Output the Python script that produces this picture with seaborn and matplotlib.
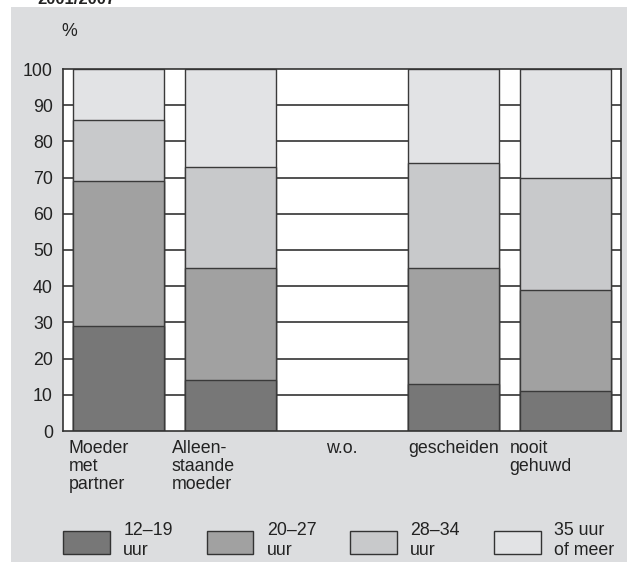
import matplotlib
matplotlib.use("Agg")
import matplotlib.pyplot as plt
import seaborn as sns
import numpy as np
import pandas as pd
from matplotlib.patches import Rectangle

# ---- data ----
categories = ["Moeder\nmet\npartner", "Alleen-\nstaande\nmoeder", "w.o.", "gescheiden", "nooit\ngehuwd"]
uur_12_19 = [29, 14, np.nan, 13, 11]
uur_20_27 = [40, 31, np.nan, 32, 28]
uur_28_34 = [17, 28, np.nan, 29, 31]
uur_35_plus = [14, 27, np.nan, 26, 30]
series_labels = ["12\u201319\nuur", "20\u201327\nuur", "28\u201334\nuur", "35 uur\nof meer"]
y_ticks = [0, 10, 20, 30, 40, 50, 60, 70, 80, 90, 100]
title_text = "2001/2007"

colors = ["#777777", "#a1a1a1", "#c8c9cb", "#e2e3e5"]
bg = "#dcdddf"
FS = 12.8

sns.set_theme(style="white")
plt.rcParams["font.family"] = ["Liberation Sans", "DejaVu Sans"]

W, H = 627, 562
fig = plt.figure(figsize=(W / 100, H / 100), dpi=100)
fig.patch.set_facecolor("white")
fig.patches.append(Rectangle((11 / W, 0), 1 - 11 / W, (H - 7) / H, transform=fig.transFigure,
                             facecolor=bg, edgecolor="none", zorder=-10))
fig.text(37 / W, (H - 4) / H, title_text, fontsize=12, fontweight="bold", color="#222222",
         ha="left", va="baseline")

ax = fig.add_axes([62.7 / W, (H - 431) / H, (621 - 62.7) / W, (431 - 69) / H])
ax.set_facecolor("white")

series = [uur_12_19, uur_20_27, uur_28_34, uur_35_plus]
cum = np.nancumsum(np.array(series, dtype=float), axis=0)
cum[:, np.isnan(np.array(series[0], dtype=float))] = np.nan

for k in range(len(series) - 1, -1, -1):
    df = pd.DataFrame({"cat": categories, "val": cum[k]})
    sns.barplot(data=df, x="cat", y="val", order=categories, color=colors[k], saturation=1,
                width=0.815, edgecolor="#3a3a3a", linewidth=1.0, ax=ax, zorder=3, errorbar=None)

for y in y_ticks[1:-1]:
    ax.axhline(y, color="#333333", lw=1.2, zorder=1)

ax.set_xlim(-0.5, 4.5)
ax.set_ylim(0, 100)
ax.set_yticks(y_ticks)
ax.set_yticklabels([str(t) for t in y_ticks], fontsize=FS, color="#222222")
ax.tick_params(axis="y", length=0, pad=7)
ax.set_xticks([])
ax.set_xlabel("")
ax.set_ylabel("")
for s in ax.spines.values():
    s.set_visible(True)
    s.set_color("#333333")
    s.set_linewidth(1.2)
    s.set_zorder(5)

fig.text(69 / W, (H - 32) / H, "%", fontsize=FS, color="#222222", ha="center", va="center")

# category labels below axis
label_pos = [(-0.445, "left"), (1 - 0.523, "left"), (2.0, "center"), (3.0, "center"), (4 - 0.497, "left")]
for (xp, ha), lab in zip(label_pos, categories):
    ax.text(xp, -2.4, lab, ha=ha, va="top", fontsize=FS, color="#222222",
            linespacing=1.08, transform=ax.transData, clip_on=False)

# legend
px0 = [63.3, 206.7, 350.3, 494.0]
for x0, col, lab in zip(px0, colors, series_labels):
    fig.patches.append(Rectangle((x0 / W, (H - 554) / H), 46.7 / W, 23.3 / H, transform=fig.transFigure,
                                 facecolor=col, edgecolor="#333333", lw=1.0))
    fig.text((x0 + 60) / W, (H - 555) / H, lab, fontsize=FS, color="#222222", ha="left",
             va="baseline", linespacing=1.2)

fig.savefig("out.png", dpi=100, facecolor=fig.get_facecolor())
